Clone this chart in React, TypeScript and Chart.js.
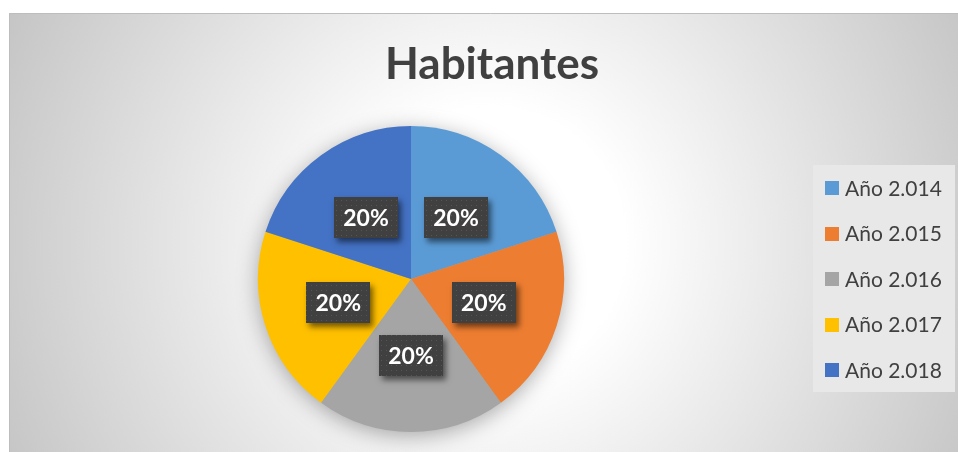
import React, { useEffect, useRef } from "react";
import { Chart, registerables } from "chart.js";

Chart.register(...registerables);

const chartTitle = "Habitantes";
const categories = ["Año 2.014", "Año 2.015", "Año 2.016", "Año 2.017", "Año 2.018"];
const values = [20, 20, 20, 20, 20];
const colors = ["#5B9BD5", "#ED7D31", "#A5A5A5", "#FFC000", "#4472C4"];

const W = 962;
const H = 445;

const bgPlugin = {
  id: "bgPlugin",
  beforeDraw(chart: any) {
    const ctx = chart.ctx;
    ctx.save();
    const g = ctx.createRadialGradient(481, 230, 0, 481, 230, 540);
    g.addColorStop(0, "#ffffff");
    g.addColorStop(0.25, "#ffffff");
    g.addColorStop(1, "#c4c4c4");
    ctx.fillStyle = g;
    ctx.fillRect(0, 0, W, H);
    ctx.strokeStyle = "#bdbdbd";
    ctx.lineWidth = 1;
    ctx.beginPath();
    ctx.moveTo(0.5, H);
    ctx.lineTo(0.5, 0.5);
    ctx.lineTo(W, 0.5);
    ctx.stroke();
    // title
    ctx.fillStyle = "#404040";
    ctx.font = "bold 44px Lato";
    ctx.textAlign = "center";
    ctx.textBaseline = "alphabetic";
    ctx.fillText(chartTitle, 483, 66);
    ctx.restore();
  },
};

const pieShadowPlugin = {
  id: "pieShadow",
  beforeDatasetsDraw(chart: any) {
    const arc = chart.getDatasetMeta(0).data[0];
    if (!arc) return;
    const ctx = chart.ctx;
    ctx.save();
    ctx.shadowColor = "rgba(0,0,0,0.35)";
    ctx.shadowBlur = 22;
    ctx.shadowOffsetY = 4;
    ctx.fillStyle = "#a5a5a5";
    ctx.beginPath();
    ctx.arc(arc.x, arc.y, arc.outerRadius - 1, 0, Math.PI * 2);
    ctx.fill();
    ctx.restore();
  },
};

let dotPattern: any = null;
function getPattern(ctx: CanvasRenderingContext2D) {
  if (dotPattern) return dotPattern;
  const c = document.createElement("canvas");
  c.width = 5;
  c.height = 5;
  const p = c.getContext("2d")!;
  p.fillStyle = "#404040";
  p.fillRect(0, 0, 5, 5);
  p.fillStyle = "#555555";
  p.fillRect(2, 2, 1, 1);
  dotPattern = ctx.createPattern(c, "repeat");
  return dotPattern;
}

const labelPlugin = {
  id: "boxLabels",
  afterDatasetsDraw(chart: any) {
    const ctx = chart.ctx;
    const meta = chart.getDatasetMeta(0);
    const data = chart.data.datasets[0].data as number[];
    const total = data.reduce((a, b) => a + b, 0);
    ctx.save();
    meta.data.forEach((arc: any, i: number) => {
      const pt = arc.getCenterPoint();
      const bw = 64;
      const bh = 41;
      const x = Math.round(pt.x - bw / 2);
      const y = Math.round(pt.y - bh / 2);
      ctx.save();
      ctx.shadowColor = "rgba(0,0,0,0.55)";
      ctx.shadowBlur = 6;
      ctx.shadowOffsetX = 3;
      ctx.shadowOffsetY = 4;
      ctx.fillStyle = "#404040";
      ctx.fillRect(x, y, bw, bh);
      ctx.restore();
      ctx.fillStyle = getPattern(ctx);
      ctx.fillRect(x, y, bw, bh);
      ctx.fillStyle = "#ffffff";
      ctx.font = "bold 23px Lato";
      ctx.textAlign = "center";
      ctx.textBaseline = "middle";
      const pct = Math.round((data[i] / total) * 100) + "%";
      ctx.fillText(pct, pt.x, pt.y + 1);
    });
    ctx.restore();
  },
};

const legendPlugin = {
  id: "customLegend",
  afterDraw(chart: any) {
    const ctx = chart.ctx;
    const labels = chart.data.labels as string[];
    const bg = chart.data.datasets[0].backgroundColor as string[];
    ctx.save();
    ctx.fillStyle = "#e8e8e8";
    ctx.fillRect(804, 152, 142, 227);
    ctx.font = "21px Lato";
    ctx.textAlign = "left";
    ctx.textBaseline = "middle";
    labels.forEach((lab, i) => {
      const cy = 175 + i * 45.5;
      ctx.fillStyle = bg[i];
      ctx.fillRect(816, Math.round(cy - 7), 14, 14);
      ctx.fillStyle = "#404040";
      ctx.fillText(lab, 836, cy + 1);
    });
    ctx.restore();
  },
};

export default function App() {
  const ref = useRef<HTMLCanvasElement>(null);
  useEffect(() => {
    if (!ref.current) return;
    const chart = new Chart(ref.current, {
      type: "pie",
      data: {
        labels: categories,
        datasets: [
          {
            data: values,
            backgroundColor: colors,
            borderWidth: 0,
          },
        ],
      },
      options: {
        responsive: false,
        animation: false,
        layout: { padding: { left: 249, top: 113, right: W - 555, bottom: H - 419 } },
        plugins: {
          legend: { display: false },
          title: { display: false },
          tooltip: { enabled: false },
        },
      },
      plugins: [bgPlugin, pieShadowPlugin, labelPlugin, legendPlugin],
    });
    return () => chart.destroy();
  }, []);
  return (
    <div style={{ position: "fixed", left: 9, top: 13, width: W, height: H, overflow: "hidden" }}>
      <canvas ref={ref} width={W} height={H} style={{ width: W, height: H, display: "block" }} />
    </div>
  );
}
